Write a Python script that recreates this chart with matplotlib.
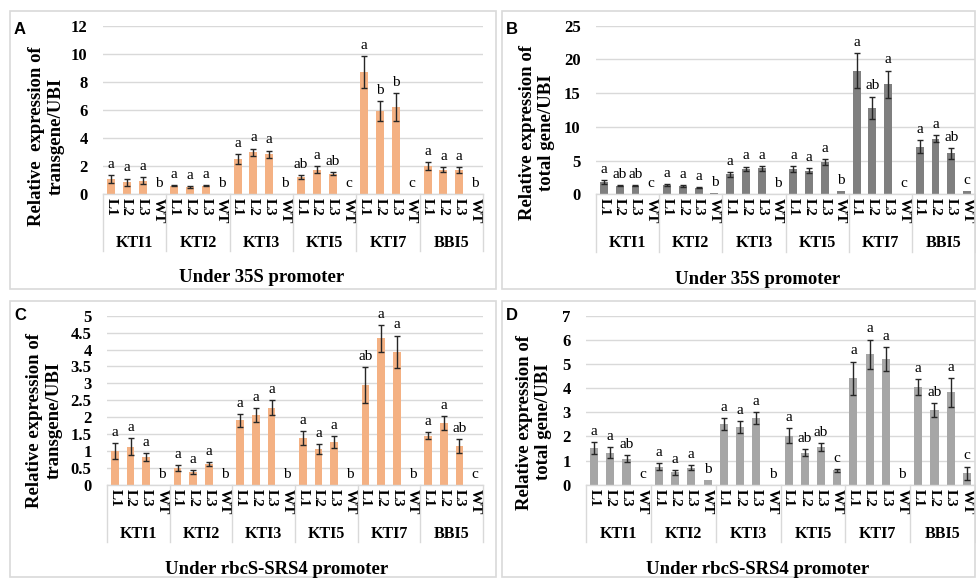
import matplotlib
matplotlib.use("Agg")
import matplotlib.pyplot as plt
import matplotlib.transforms as mtransforms
from matplotlib.patches import Rectangle
import numpy as np

plt.rcParams['font.family'] = ['Liberation Serif', 'DejaVu Serif']

genes = ["KTI1", "KTI2", "KTI3", "KTI5", "KTI7", "BBI5"]
lines = ["L1", "L2", "L3", "WT"]

# Panel A: transgene, 35S
a_vals = [1.1, 0.85, 0.95, 0, 0.6, 0.5, 0.6, 0, 2.5, 3.0, 2.85, 0, 1.2, 1.75, 1.45, 0,
          8.7, 5.9, 6.2, 0, 2.0, 1.75, 1.7, 0]
a_err = [0.28, 0.25, 0.25, 0, 0.05, 0.04, 0.05, 0, 0.38, 0.25, 0.25, 0, 0.15, 0.25, 0.1, 0,
         1.15, 0.72, 1.0, 0, 0.28, 0.2, 0.22, 0]
a_let = ["a", "a", "a", "b", "a", "a", "a", "b", "a", "a", "a", "b", "ab", "a", "ab", "c",
         "a", "b", "b", "c", "a", "a", "a", "b"]

# Panel B: total gene, 35S
b_vals = [1.85, 1.3, 1.3, 0, 1.4, 1.25, 1.0, 0.2, 2.95, 3.75, 3.85, 0, 3.75, 3.5, 4.75, 0.5,
          18.35, 12.8, 16.35, 0, 7.05, 8.25, 6.05, 0.5]
b_err = [0.3, 0.1, 0.1, 0, 0.15, 0.1, 0.1, 0, 0.4, 0.35, 0.35, 0, 0.45, 0.4, 0.45, 0,
         2.6, 1.7, 2.0, 0, 0.95, 0.5, 0.85, 0]
b_let = ["a", "ab", "ab", "c", "a", "a", "a", "b", "a", "a", "a", "b", "a", "a", "a", "b",
         "a", "ab", "a", "c", "a", "a", "ab", "c"]

# Panel C: transgene, rbcS-SRS4
c_vals = [1.0, 1.12, 0.82, 0, 0.5, 0.38, 0.6, 0, 1.9, 2.06, 2.28, 0, 1.38, 1.05, 1.27, 0,
          2.95, 4.33, 3.93, 0, 1.45, 1.82, 1.15, 0]
c_err = [0.23, 0.25, 0.12, 0, 0.08, 0.06, 0.06, 0, 0.18, 0.2, 0.22, 0, 0.2, 0.15, 0.17, 0,
         0.53, 0.4, 0.48, 0, 0.1, 0.2, 0.2, 0]
c_let = ["a", "a", "a", "b", "a", "a", "a", "b", "a", "a", "a", "b", "a", "a", "a", "b",
         "ab", "a", "a", "b", "a", "a", "ab", "c"]

# Panel D: total gene, rbcS-SRS4
d_vals = [1.52, 1.33, 1.08, 0, 0.75, 0.52, 0.7, 0.2, 2.51, 2.4, 2.75, 0, 2.03, 1.33, 1.56, 0.6,
          4.4, 5.41, 5.19, 0, 4.03, 3.09, 3.83, 0.47]
d_err = [0.24, 0.24, 0.15, 0, 0.15, 0.1, 0.1, 0, 0.25, 0.25, 0.25, 0, 0.3, 0.15, 0.15, 0.06,
         0.7, 0.6, 0.5, 0, 0.33, 0.3, 0.6, 0.28]
d_let = ["a", "a", "ab", "c", "a", "a", "a", "b", "a", "a", "a", "b", "a", "ab", "ab", "c",
         "a", "a", "a", "b", "a", "ab", "a", "c"]

W, H = 976, 578
fig = plt.figure(figsize=(W / 100, H / 100), dpi=100)

def fx(px):
    return px / W

def fy(py):
    return 1 - py / H

# panel frames
for (x0, y0, x1, y1) in [(10, 11, 496, 289), (502, 11, 975, 289), (10, 301, 496, 577), (502, 301, 975, 577)]:
    fig.patches.append(Rectangle((fx(x0), fy(y1)), fx(x1 - x0), fy(y0) - fy(y1),
                                 transform=fig.transFigure, fill=False, edgecolor="#D9D9D9",
                                 linewidth=1.2))

panels = [
    dict(key="A", vals=a_vals, err=a_err, let=a_let, color="#F4B183",
         ax=(103, 483, 26, 194), ymax=12, ystep=2,
         ylabel="Relative  expression of\ntransgene/UBI", ylab_xy=(46, 136),
         title="Under 35S promoter", title_xy=(262, 277), letter_xy=(14, 29)),
    dict(key="B", vals=b_vals, err=b_err, let=b_let, color="#7F7F7F",
         ax=(596, 975, 25.7, 194.3), ymax=25, ystep=5,
         ylabel="Relative expression of\ntotal gene/UBI", ylab_xy=(537, 133),
         title="Under 35S promoter", title_xy=(758, 279), letter_xy=(506, 29)),
    dict(key="C", vals=c_vals, err=c_err, let=c_let, color="#F4B183",
         ax=(107, 483, 315.7, 484.7), ymax=5, ystep=0.5,
         ylabel="Relative expression of\ntransgene/UBI", ylab_xy=(44, 420),
         title="Under rbcS-SRS4 promoter", title_xy=(277, 569), letter_xy=(14, 315)),
    dict(key="D", vals=d_vals, err=d_err, let=d_let, color="#A6A6A6",
         ax=(586, 975, 315.7, 484.7), ymax=7, ystep=1,
         ylabel="Relative expression of\ntotal gene/UBI", ylab_xy=(534, 422),
         title="Under rbcS-SRS4 promoter", title_xy=(758, 570), letter_xy=(506, 315)),
]

n = len(genes) * len(lines)
for p in panels:
    x0, x1, ytop, ybot = p["ax"]
    ax = fig.add_axes([fx(x0), fy(ybot), fx(x1 - x0), fy(ytop) - fy(ybot)])
    xs = np.arange(n) + 0.5
    vals = np.array(p["vals"], dtype=float)
    errs = np.array(p["err"], dtype=float)
    ax.bar(xs, vals, width=0.5, color=p["color"], zorder=2)
    m = errs > 0
    ax.errorbar(xs[m], vals[m], yerr=errs[m], fmt="none", ecolor="#262626",
                elinewidth=1.0, capsize=2.5, capthick=1.0, zorder=3)
    for x, v, e, t in zip(xs, vals, errs, p["let"]):
        ax.annotate(t, xy=(x, v + e), xytext=(0, 3), textcoords="offset points",
                    ha="center", va="bottom", fontsize=11, color="black", zorder=4)
    ax.set_xlim(0, n)
    ax.set_ylim(0, p["ymax"])
    ticks = np.arange(0, p["ymax"] + p["ystep"] / 2, p["ystep"])
    ax.set_yticks(ticks)
    ax.set_yticklabels([("%g" % t) for t in ticks], fontsize=12, fontweight="bold")
    ax.tick_params(axis="y", length=0, pad=11)
    ax.grid(axis="y", color="#D9D9D9", linewidth=1.0, zorder=0)
    ax.set_axisbelow(True)
    for s in ["top", "right", "left"]:
        ax.spines[s].set_visible(False)
    ax.spines["bottom"].set_color("#D9D9D9")
    ax.spines["bottom"].set_linewidth(1.0)
    ax.set_xticks(xs)
    ax.set_xticklabels(lines * len(genes), rotation=-90, fontsize=11, fontweight="bold")
    ax.tick_params(axis="x", length=0, pad=3)
    trans = mtransforms.blended_transform_factory(ax.transData, ax.transAxes)
    for g in range(len(genes) + 1):
        ax.plot([4 * g, 4 * g], [0, -0.34], transform=trans, color="#D9D9D9",
                linewidth=1.0, clip_on=False)
    for g, name in enumerate(genes):
        ax.text(4 * g + 2, -0.29, name, transform=trans, ha="center", va="center",
                fontsize=11.5, fontweight="bold")
    fig.text(fx(p["ylab_xy"][0]), fy(p["ylab_xy"][1]), p["ylabel"], rotation=90,
             ha="center", va="center", fontsize=13.5, fontweight="bold", linespacing=1.2)
    fig.text(fx(p["title_xy"][0]), fy(p["title_xy"][1]), p["title"], ha="center",
             va="center", fontsize=13.5, fontweight="bold")
    fig.text(fx(p["letter_xy"][0]), fy(p["letter_xy"][1]), p["key"], ha="left",
             va="center", fontsize=12, fontweight="bold", family="Liberation Sans")

fig.savefig("out.png", dpi=100)
